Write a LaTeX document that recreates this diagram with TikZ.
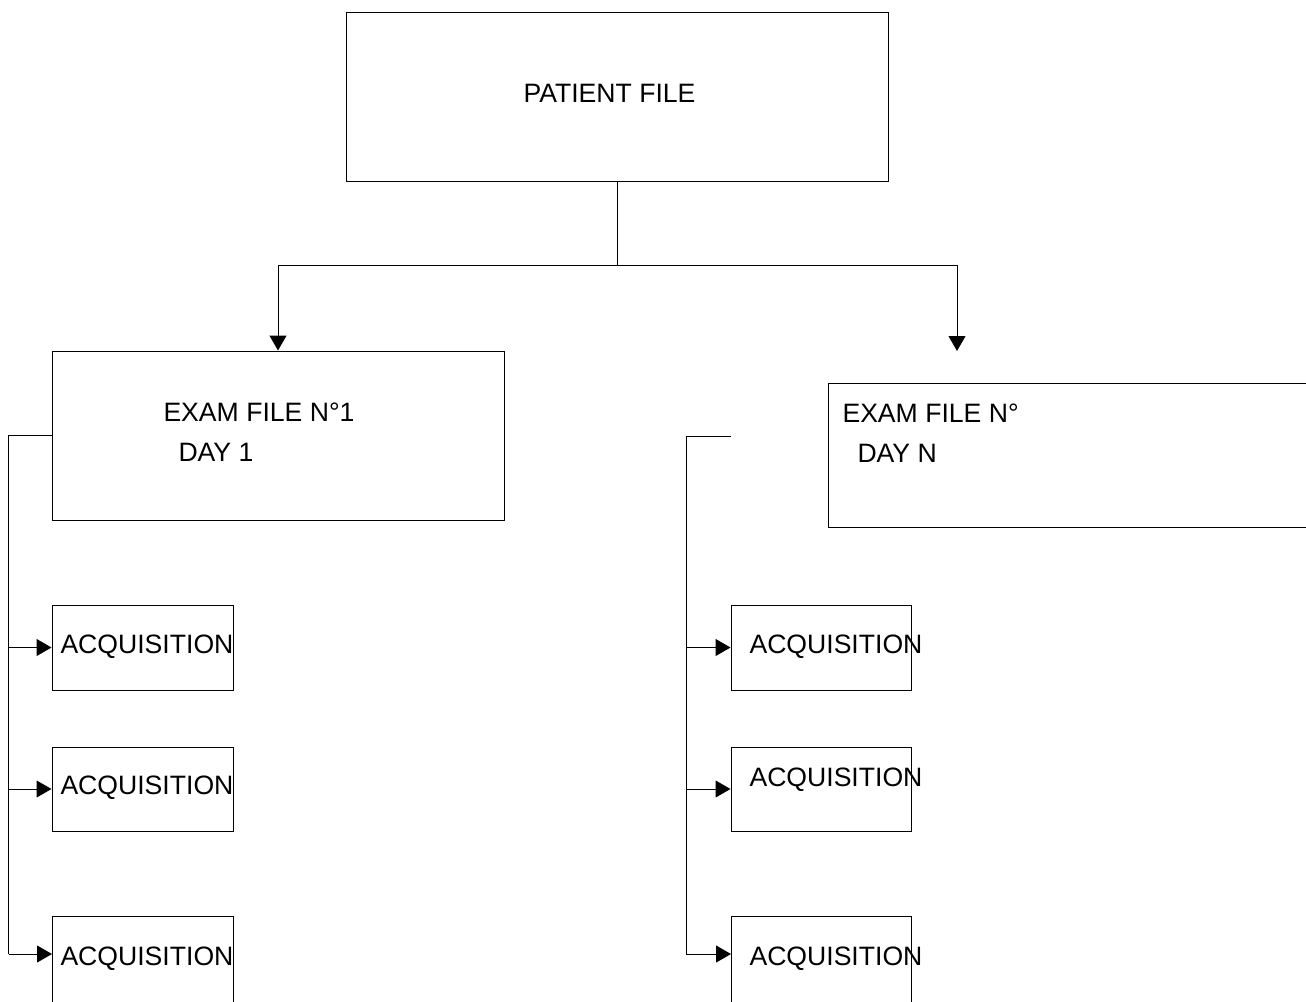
\documentclass[tikz,border=0pt]{standalone}
\usepackage{fontspec}
\setmainfont{Liberation Sans}
\usetikzlibrary{arrows.meta,calc}

\tikzset{
  filebox/.style={draw, rectangle, inner sep=0pt},
  txt/.style={inner sep=0pt, anchor=base west, font=\fontsize{13.3}{16}\selectfont},
  arr/.style={-{Triangle[length=7.5pt,width=8.5pt]}},
}

\begin{document}
\begin{tikzpicture}[x=0.5pt,y=-0.5pt,line width=0.5pt]
\clip (0,0) rectangle (1306,1001);
% files
\node[filebox, minimum width=271pt, minimum height=84.5pt] (patient) at (617,96.5) {};
\node[filebox, minimum width=226pt, minimum height=84.5pt] (exam1) at (278,435.5) {};
\node[filebox, minimum width=280pt, minimum height=72pt] (examN) at (1108,455) {};
\node[filebox, minimum width=90.5pt, minimum height=42.5pt] (acq11) at (142.5,647.5) {};
\node[filebox, minimum width=90.5pt, minimum height=42pt] (acq12) at (142.5,789) {};
\node[filebox, minimum width=90.5pt, minimum height=50pt, anchor=north west] (acq13) at (52,916) {};
\node[filebox, minimum width=90pt, minimum height=42.5pt] (acqN1) at (821,647.5) {};
\node[filebox, minimum width=90pt, minimum height=42pt] (acqN2) at (821,789) {};
\node[filebox, minimum width=90pt, minimum height=50pt, anchor=north west] (acqN3) at (731,916) {};
% texts
\node[txt] (ptxt) at (523,102.5) {PATIENT FILE};
\node[txt] (e1a) at (163,421.5) {EXAM FILE N°1};
\node[txt] (e1b) at (178,461.5) {DAY 1};
\node[txt] (eNa) at (842,422) {EXAM FILE N°};
\node[txt] (eNb) at (857,462) {DAY N};
\node[txt] (a11) at (60,653.5) {ACQUISITION};
\node[txt] (a12) at (60,794.5) {ACQUISITION};
\node[txt] (a13) at (60,965) {ACQUISITION};
\node[txt] (aN1) at (749,653.5) {ACQUISITION};
\node[txt] (aN2) at (749,786.5) {ACQUISITION};
\node[txt] (aN3) at (749,965) {ACQUISITION};
% patient -> exams
\coordinate (split) at (617,265);
\coordinate (tipN) at (957,351);
\draw (patient.south) -- (split);
\draw[arr] (split) -| (exam1.north);
\draw[arr] (split) -| (tipN);
% exam 1 -> acquisitions
\draw (exam1.west) -- ++(-43,0) coordinate (ltop) -- ($(ltop |- acq13.north west)+(0,38)$);
\draw[arr] (ltop |- acq11.west) -- (acq11.west);
\draw[arr] (ltop |- acq12.west) -- (acq12.west);
\draw[arr] ($(ltop |- acq13.north west)+(0,38)$) -- ($(acq13.north west)+(0,38)$);
% exam N -> acquisitions
\coordinate (rstub) at (731,436);
\draw (rstub) -- ++(-45,0) coordinate (rtop) -- ($(rtop |- acqN3.north west)+(0,38)$);
\draw[arr] (rtop |- acqN1.west) -- (acqN1.west);
\draw[arr] (rtop |- acqN2.west) -- (acqN2.west);
\draw[arr] ($(rtop |- acqN3.north west)+(0,38)$) -- ($(acqN3.north west)+(0,38)$);
\end{tikzpicture}
\end{document}
